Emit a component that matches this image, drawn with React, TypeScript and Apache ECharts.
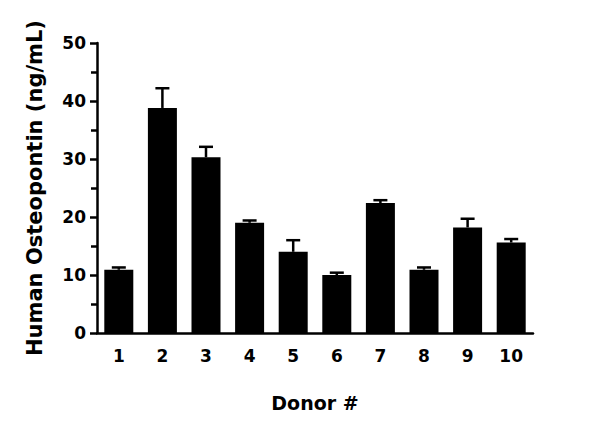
import React, { useEffect, useRef } from "react";
import * as echarts from "echarts";

const donors = ["1", "2", "3", "4", "5", "6", "7", "8", "9", "10"];
const means = [10.9, 38.8, 30.3, 19.0, 14.0, 10.0, 22.4, 10.9, 18.2, 15.6];
const upper = [11.3, 42.2, 32.1, 19.4, 16.0, 10.4, 22.9, 11.3, 19.7, 16.2];

const FONT = "'DejaVu Sans', sans-serif";

export default function App() {
  const ref = useRef<HTMLDivElement>(null);
  useEffect(() => {
    const chart = echarts.init(ref.current!, undefined, { renderer: "svg" });
    chart.setOption({
      animation: false,
      backgroundColor: "#ffffff",
      grid: { left: 97, right: 67, top: 43, bottom: 101, containLabel: false },
      xAxis: {
        type: "category",
        data: donors,
        name: "Donor #",
        nameLocation: "middle",
        nameGap: 60,
        nameTextStyle: { fontFamily: FONT, fontWeight: "bold", fontSize: 19, color: "#000" },
        axisLine: { lineStyle: { color: "#000", width: 2.5 } },
        axisTick: { alignWithLabel: true, length: 6, lineStyle: { color: "#000", width: 2.5 } },
        axisLabel: { fontFamily: FONT, fontWeight: "bold", fontSize: 17, color: "#000", margin: 14 },
      },
      yAxis: {
        type: "value",
        min: 0,
        max: 50,
        interval: 10,
        name: "Human Osteopontin (ng/mL)",
        nameLocation: "middle",
        nameGap: 52,
        nameTextStyle: { fontFamily: FONT, fontWeight: "bold", fontSize: 21, color: "#000" },
        axisLine: { show: true, lineStyle: { color: "#000", width: 2.5 } },
        axisTick: { show: true, length: 7, lineStyle: { color: "#000", width: 2.5 } },
        minorTick: { show: true, splitNumber: 2, length: 6, lineStyle: { color: "#000", width: 2.5 } },
        splitLine: { show: false },
        axisLabel: { fontFamily: FONT, fontWeight: "bold", fontSize: 17, color: "#000", margin: 11 },
      },
      series: [
        {
          type: "bar",
          data: means,
          barWidth: 29,
          itemStyle: { color: "#000" },
          z: 2,
        },
        {
          type: "custom",
          data: means.map((m, i) => [i, m, upper[i]]),
          z: 3,
          renderItem: (params: any, api: any) => {
            const i = api.value(0);
            const top = api.coord([i, api.value(2)]);
            const base = api.coord([i, api.value(1)]);
            const half = 7;
            return {
              type: "group",
              children: [
                {
                  type: "line",
                  shape: { x1: top[0], y1: top[1], x2: base[0], y2: base[1] },
                  style: { stroke: "#000", lineWidth: 2.5 },
                },
                {
                  type: "line",
                  shape: { x1: top[0] - half, y1: top[1], x2: top[0] + half, y2: top[1] },
                  style: { stroke: "#000", lineWidth: 2.5 },
                },
              ],
            };
          },
        },
      ],
    });
    return () => chart.dispose();
  }, []);
  return <div ref={ref} style={{ width: 600, height: 434, margin: -8 }} />;
}
